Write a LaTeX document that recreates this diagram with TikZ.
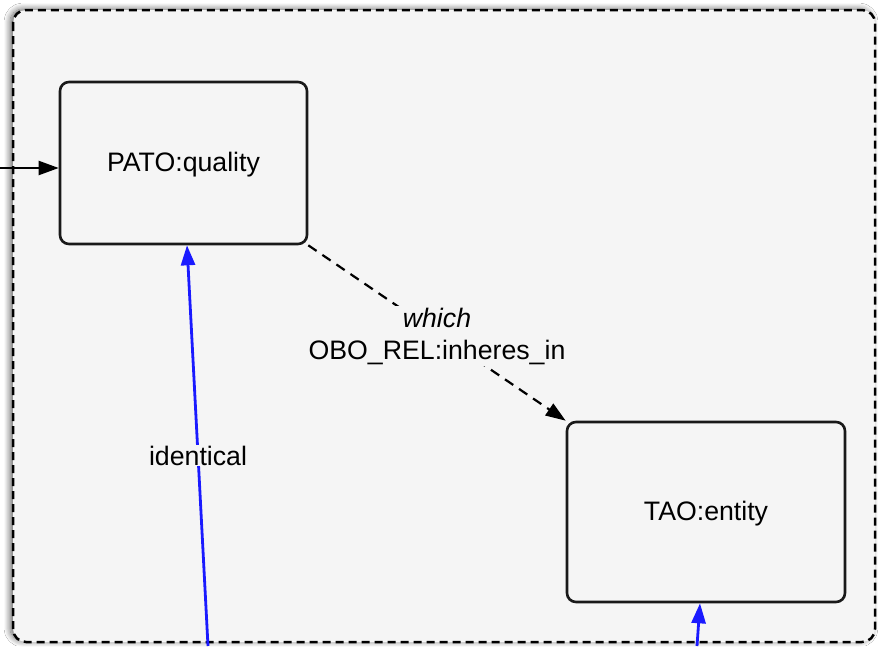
\documentclass[tikz,border=0pt]{standalone}
\usepackage{fontspec}
\setmainfont{Liberation Sans}
\usetikzlibrary{arrows.meta,calc,shadows.blur}
\definecolor{bgpanel}{HTML}{F5F5F5}
\definecolor{edgeblue}{HTML}{1A1AFF}
\tikzset{
  box/.style={draw=black!90, line width=2.6pt, rounded corners=9pt, fill=bgpanel,
    font=\fontsize{26.7}{32}\selectfont, align=center, inner sep=0pt, text depth=2pt},
  tip/.style={-{Triangle[length=20pt,width=14pt]}},
  relline/.style={tip, draw=black, line width=2.2pt, dash pattern=on 10pt off 7pt},
  idline/.style={tip, draw=edgeblue, line width=2.8pt},
  inline/.style={tip, draw=black, line width=2.2pt},
  lbl/.style={fill=bgpanel, font=\fontsize{26.7}{32}\selectfont, align=center, inner sep=2pt}
}
\begin{document}
\begin{tikzpicture}[x=1pt,y=-1pt]
\useasboundingbox (0,0) rectangle (878,646);
\fill[white] (0,0) rectangle (878,646);
% outer dashed panel
\draw[line width=2.5pt, dash pattern=on 8pt off 5pt, rounded corners=13pt, fill=bgpanel,
  blur shadow={shadow xshift=-3pt, shadow yshift=1pt, shadow blur radius=6pt, shadow blur steps=10, shadow opacity=60}]
  (13,10) rectangle (875,642);
% nodes
\node[box, minimum width=247pt, minimum height=162pt] (pato) at (183.5,163) {PATO:quality};
\node[box, minimum width=278pt, minimum height=180pt] (tao) at (706,512) {TAO:entity};
% connectors
\coordinate (in) at (0,168);
\draw[inline] (in) -- (in -| pato.west);
\draw[relline] (pato.south east) -- (tao.north west)
  node[lbl, pos=0.5, yshift=-3pt] (rel) {\textit{which}\\OBO\_REL:inheres\_in};
\coordinate (idsrc) at (208,646);
\draw[idline] (idsrc) -- ([xshift=3.5pt]pato.south)
  node[lbl, pos=0.475, inner sep=1pt] (idl) {identical};
\coordinate (tsrc) at (697,646);
\draw[idline] (tsrc) -- ([xshift=-6pt]tao.south);
\end{tikzpicture}
\end{document}
